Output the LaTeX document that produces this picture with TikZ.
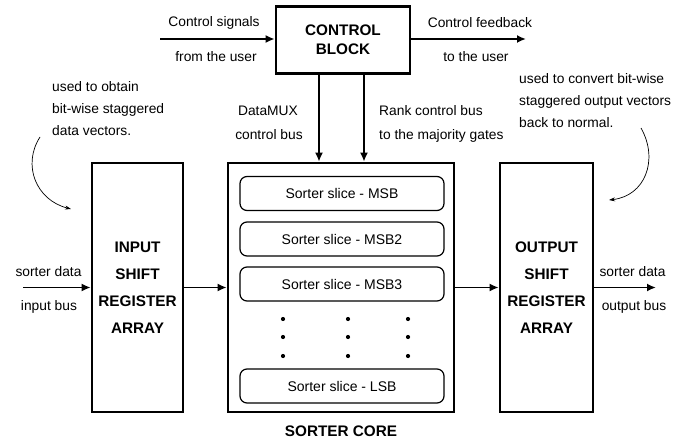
\documentclass[tikz,border=0pt]{standalone}
\usepackage{fontspec}
\setmainfont{Liberation Sans}
\usetikzlibrary{positioning,arrows.meta}

\begin{document}
\begin{tikzpicture}[x=1pt, y=-1pt,
  blk/.style={draw, line width=2.6pt, inner sep=0pt, align=center,
    font=\bfseries\fontsize{15.3}{27}\selectfont},
  slice/.style={draw, rounded corners=7pt, line width=1.2pt, minimum width=204pt,
    minimum height=34pt, font=\fontsize{14}{16}\selectfont},
  lbl/.style={inner sep=0pt, font=\fontsize{13.8}{22}\selectfont},
  note/.style={lbl, align=left, anchor=west},
  bus/.style={line width=1.8pt, -{Latex[length=9pt,width=8pt]}},
  curly/.style={line width=0.7pt, -{Stealth[length=6pt,width=4pt]}},
  dot/.style={circle, fill, inner sep=0pt, minimum size=4.2pt}]
  \useasboundingbox (0,0) rectangle (696,441);

  % blocks
  \node[blk, minimum width=134pt, minimum height=67pt,
    font=\bfseries\fontsize{15.3}{19}\selectfont] (ctrl) at (343,40) {CONTROL\\BLOCK};
  \node[blk, minimum width=91pt, minimum height=249pt] (inreg) at (137.5,287.5)
    {INPUT\\SHIFT\\REGISTER\\ARRAY};
  \node[blk, minimum width=226pt, minimum height=249pt] (core) at (341,287.5) {};
  \node[blk, minimum width=93pt, minimum height=249pt] (outreg) at (546.5,287.5)
    {OUTPUT\\SHIFT\\REGISTER\\ARRAY};
  \node[font=\bfseries\fontsize{15.3}{18}\selectfont, inner sep=0pt] (corename) at (341,431) {SORTER CORE};

  % slices
  \node[slice] (msb) at (342,193.5) {Sorter slice - MSB};
  \node[slice] (msb2) at (342,239) {Sorter slice - MSB2};
  \node[slice] (msb3) at (342,284) {Sorter slice - MSB3};
  \node[slice] (lsb) at (342,386) {Sorter slice - LSB};
  \foreach \dx in {283,348,408}
    \foreach \dy in {319,337,356}
      \node[dot] at (\dx,\dy) {};

  % control signals
  \coordinate (usrin) at (160,39);
  \coordinate (usrout) at (526,39);
  \draw[bus] (usrin) -- (usrin -| ctrl.west);
  \draw[bus] (usrout -| ctrl.east) -- (usrout);
  \node[lbl] (csig) at (214,22.5) {Control signals};
  \node[lbl] (cfrom) at (216,57) {from the user};
  \node[lbl] (cfb) at (480,22.5) {Control feedback};
  \node[lbl] (cto) at (476,57) {to the user};

  \draw[bus] ([xshift=-24pt]ctrl.south) -- ([xshift=-24pt]ctrl.south |- core.north);
  \draw[bus] ([xshift=21pt]ctrl.south) -- ([xshift=21pt]ctrl.south |- core.north);
  \node[lbl] (mux1) at (268,111) {DataMUX};
  \node[lbl] (mux2) at (269,135) {control bus};
  \node[lbl, anchor=west] (rank1) at (379,111) {Rank control bus};
  \node[lbl, anchor=west] (rank2) at (379,136) {to the majority gates};

  % data path
  \coordinate (din) at (23,287.5);
  \coordinate (dout) at (656,287.5);
  \draw[bus] (din) -- (inreg.west);
  \draw[bus] (inreg.east) -- (core.west);
  \draw[bus] (core.east) -- (outreg.west);
  \draw[bus] (outreg.east) -- (dout);
  \node[lbl] (sdin) at (48.5,272) {sorter data};
  \node[lbl] (ibus) at (49,307) {input bus};
  \node[lbl] (sdout) at (632.5,272) {sorter data};
  \node[lbl] (obus) at (634,307) {output bus};

  % notes
  \node[note] (noteL) at (52,109) {used to obtain\\bit-wise staggered\\data vectors.};
  \node[note] (noteR) at (519,101) {used to convert bit-wise\\staggered output vectors\\back to normal.};
  \coordinate (nl1) at (40,137);
  \coordinate (nl2) at (71,209);
  \coordinate (nr1) at (641,128);
  \coordinate (nr2) at (609,200);
  \draw[curly] (nl1) .. controls (22,165) and (36,200) .. (nl2);
  \draw[curly] (nr1) .. controls (659,160) and (645,196) .. (nr2);
\end{tikzpicture}
\end{document}
